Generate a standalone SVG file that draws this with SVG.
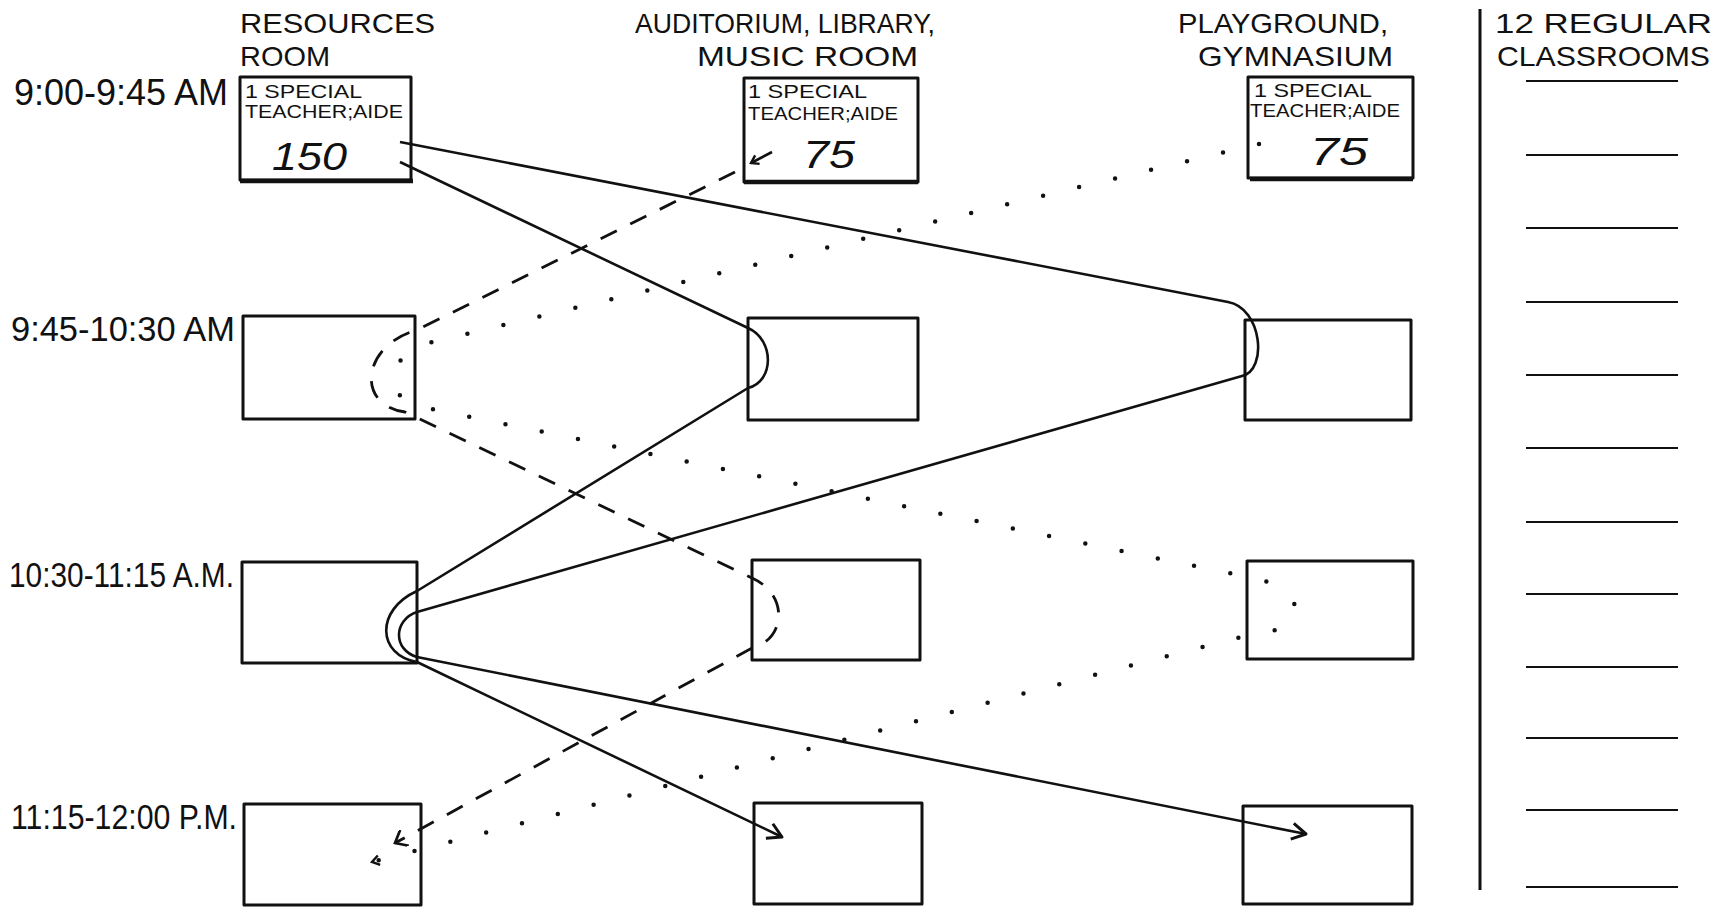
<svg xmlns="http://www.w3.org/2000/svg" width="1728" height="909" viewBox="0 0 1728 909">
<style>
text{font-family:"Liberation Sans",Arial,sans-serif;fill:#111}
.hdr{font-size:28px}
.time{font-size:35px}
.small{font-size:19px}
.num{font-size:38px;font-style:italic}
.box{fill:none;stroke:#111;stroke-width:3;stroke-linejoin:round}
.thick{stroke:#111;stroke-width:4.5;fill:none}
.solid{fill:none;stroke:#111;stroke-width:2.6;stroke-linejoin:round}
.dash{fill:none;stroke:#111;stroke-width:2.8;stroke-dasharray:18 15}
.dot{fill:none;stroke:#111;stroke-width:4.5;stroke-linecap:round;stroke-dasharray:0 37}
.rule{stroke:#111;stroke-width:2}
</style>
<defs>
<marker id="arr" viewBox="0 0 20 20" refX="17" refY="10" markerWidth="20" markerHeight="20" markerUnits="userSpaceOnUse" orient="auto">
<path d="M3,2 L17,10 L3,18" fill="none" stroke="#111" stroke-width="3" stroke-linejoin="round"/>
</marker>
<marker id="arrL" viewBox="0 0 20 20" refX="16" refY="10" markerWidth="18" markerHeight="18" markerUnits="userSpaceOnUse" orient="auto">
<path d="M4,0 L16,10 L4,20" fill="none" stroke="#111" stroke-width="3" stroke-dasharray="none"/>
</marker>
<marker id="arrS" viewBox="0 0 20 20" refX="16" refY="10" markerWidth="12" markerHeight="12" markerUnits="userSpaceOnUse" orient="auto">
<path d="M4,2 L16,10 L4,18" fill="none" stroke="#111" stroke-width="4" stroke-dasharray="none"/>
</marker>
</defs>

<g id="headers">
<text class="hdr" x="240" y="33" textLength="195" lengthAdjust="spacingAndGlyphs">RESOURCES</text>
<text class="hdr" x="240" y="66" textLength="90" lengthAdjust="spacingAndGlyphs">ROOM</text>
<text class="hdr" x="635" y="33" textLength="300" lengthAdjust="spacingAndGlyphs">AUDITORIUM, LIBRARY,</text>
<text class="hdr" x="697" y="66" textLength="221" lengthAdjust="spacingAndGlyphs">MUSIC  ROOM</text>
<text class="hdr" x="1178" y="33" textLength="210" lengthAdjust="spacingAndGlyphs">PLAYGROUND,</text>
<text class="hdr" x="1198" y="66" textLength="195" lengthAdjust="spacingAndGlyphs">GYMNASIUM</text>
<text class="hdr" x="1495" y="33" textLength="217" lengthAdjust="spacingAndGlyphs">12 REGULAR</text>
<text class="hdr" x="1497" y="66" textLength="213" lengthAdjust="spacingAndGlyphs">CLASSROOMS</text>
</g>

<g id="times">
<text class="time" x="14" y="105" style="font-size:37px" textLength="214" lengthAdjust="spacingAndGlyphs">9:00-9:45 AM</text>
<text class="time" x="11" y="341" textLength="224" lengthAdjust="spacingAndGlyphs">9:45-10:30 AM</text>
<text class="time" x="9" y="587" textLength="225" lengthAdjust="spacingAndGlyphs">10:30-11:15 A.M.</text>
<text class="time" x="11" y="829" textLength="226" lengthAdjust="spacingAndGlyphs">11:15-12:00 P.M.</text>
</g>

<g id="res-1">
<rect class="box" x="240" y="77" width="171" height="103"/>
<line class="thick" x1="240" y1="181" x2="413" y2="181"/>
<text class="small" x="245" y="98" textLength="117" lengthAdjust="spacingAndGlyphs">1 SPECIAL</text>
<text class="small" x="245" y="118" textLength="158" lengthAdjust="spacingAndGlyphs">TEACHER;AIDE</text>
<text class="num" x="272" y="170" textLength="75" lengthAdjust="spacingAndGlyphs">150</text>
</g>
<g id="aud-1">
<rect class="box" x="744" y="78" width="174" height="104"/>
<line class="thick" x1="744" y1="182" x2="918" y2="182"/>
<text class="small" x="748" y="98" textLength="119" lengthAdjust="spacingAndGlyphs">1 SPECIAL</text>
<text class="small" x="748" y="120" textLength="150" lengthAdjust="spacingAndGlyphs">TEACHER;AIDE</text>
<text class="num" x="803" y="168" textLength="52" lengthAdjust="spacingAndGlyphs">75</text>
</g>
<g id="play-1">
<rect class="box" x="1248" y="77" width="165" height="101"/>
<line class="thick" x1="1250" y1="179" x2="1413" y2="179"/>
<text class="small" x="1254" y="97" textLength="118" lengthAdjust="spacingAndGlyphs">1 SPECIAL</text>
<text class="small" x="1250" y="117" textLength="150" lengthAdjust="spacingAndGlyphs">TEACHER;AIDE</text>
<text class="num" x="1310" y="165" textLength="58" lengthAdjust="spacingAndGlyphs">75</text>
</g>

<g id="res-2"><rect class="box" x="243" y="316" width="172" height="103"/></g>
<g id="aud-2"><rect class="box" x="748" y="318" width="170" height="102"/></g>
<g id="play-2"><rect class="box" x="1245" y="320" width="166" height="100"/></g>
<g id="res-3"><rect class="box" x="242" y="562" width="175" height="101"/></g>
<g id="aud-3"><rect class="box" x="752" y="560" width="168" height="100"/></g>
<g id="play-3"><rect class="box" x="1247" y="561" width="166" height="98"/></g>
<g id="res-4"><rect class="box" x="244" y="804" width="177" height="101"/></g>
<g id="aud-4"><rect class="box" x="754" y="803" width="168" height="101"/></g>
<g id="play-4"><rect class="box" x="1243" y="806" width="169" height="98"/></g>

<g id="classrooms">
<line class="rule" x1="1480" y1="9" x2="1480" y2="890" style="stroke-width:3"/>
<line class="rule" x1="1526" y1="81" x2="1678" y2="81"/>
<line class="rule" x1="1526" y1="155" x2="1678" y2="155"/>
<line class="rule" x1="1526" y1="228" x2="1678" y2="228"/>
<line class="rule" x1="1526" y1="302" x2="1678" y2="302"/>
<line class="rule" x1="1526" y1="375" x2="1678" y2="375"/>
<line class="rule" x1="1526" y1="448" x2="1678" y2="448"/>
<line class="rule" x1="1526" y1="522" x2="1678" y2="522"/>
<line class="rule" x1="1526" y1="594" x2="1678" y2="594"/>
<line class="rule" x1="1526" y1="667" x2="1678" y2="667"/>
<line class="rule" x1="1526" y1="738" x2="1678" y2="738"/>
<line class="rule" x1="1526" y1="810" x2="1678" y2="810"/>
<line class="rule" x1="1526" y1="887" x2="1678" y2="887"/>
</g>

<g id="connectors">
<path class="solid" d="M400,142 L1228,302 C1262,308 1268,370 1242,376 L417,612 C393,620 393,650 417,657 L1306,834" marker-end="url(#arr)"/>
<path class="solid" d="M400,162 L748,328 C775,340 774,382 748,388 L417,591 C375,610 377,655 417,662 L782,837" marker-end="url(#arr)"/>
<path class="solid" d="M772,152 L751,163" marker-end="url(#arrS)"/>
<path class="dash" d="M735,172 L417,330 C362,345 355,405 405,412 L752,578 C790,595 785,640 752,648 L395,843" marker-end="url(#arrL)"/>
<path class="dot" d="M1259,144 L420,345 C385,360 385,405 427,408 L1258,579 C1305,590 1312,630 1253,634 L372,862" marker-end="url(#arrS)"/>
</g>
</svg>
